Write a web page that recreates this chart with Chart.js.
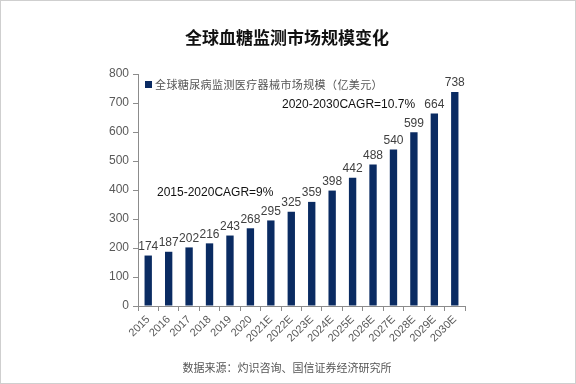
<!DOCTYPE html>
<html>
<head>
<meta charset="utf-8">
<script src="https://cdn.jsdelivr.net/npm/chart.js@4"></script>
<style>
	html, body { margin: 0; padding: 0; background: #fff; }
	#wrap { width: 576px; height: 384px; }
</style>
</head>
<body>
<div id="wrap"><canvas id="marketChart" width="576" height="384"></canvas></div>
<script>
// Chart data
const years = ['2015', '2016', '2017', '2018', '2019', '2020', '2021E', '2022E', '2023E',
	'2024E', '2025E', '2026E', '2027E', '2028E', '2029E', '2030E'];
const marketSize = [174, 187, 202, 216, 243, 268, 295, 325, 359, 398, 442, 488, 540, 599, 664, 738];
const yTicks = [0, 100, 200, 300, 400, 500, 600, 700, 800];

const seriesName = '全球糖尿病监测医疗器械市场规模（亿美元）';
const chartTitle = '全球血糖监测市场规模变化';
const sourceNote = '数据来源：灼识咨询、国信证券经济研究所';
const navy = '#0a2b62';
const axisGray = '#8c8c8c';
const textGray = '#404040';
const cjkFont = '"Noto Sans CJK SC", "Noto Sans", sans-serif';
const latinFont = '"Liberation Sans", Arial, sans-serif';

// Title, legend, CAGR notes, labels, frame
const decorations = {
	id: 'decorations',
	afterDatasetsDraw(chart) {
		const ctx = chart.ctx;
		const meta = chart.getDatasetMeta(0);
		ctx.save();
		ctx.fillStyle = textGray;
		ctx.font = '12px ' + latinFont;
		ctx.textAlign = 'center';
		ctx.textBaseline = 'bottom';
		meta.data.forEach((bar, i) => {
			ctx.fillText(String(marketSize[i]), bar.x, bar.y - 3);
		});
		ctx.restore();
	},
	afterDraw(chart) {
		const ctx = chart.ctx;
		ctx.save();
		// frame
		ctx.strokeStyle = '#cfcfcf';
		ctx.lineWidth = 1;
		ctx.strokeRect(0.5, 0.5, 575, 383);

		// title
		ctx.fillStyle = '#111';
		ctx.font = 'bold 17px ' + cjkFont;
		ctx.textAlign = 'center';
		ctx.textBaseline = 'middle';
		ctx.fillText(chartTitle, 287, 38);

		// legend
		ctx.fillStyle = navy;
		ctx.fillRect(145, 81, 7, 7);
		ctx.fillStyle = '#555';
		ctx.font = '11px ' + cjkFont;
		ctx.textAlign = 'left';
		ctx.letterSpacing = '0.4px';
		ctx.fillText(seriesName, 155, 85);
		ctx.letterSpacing = '0px';

		// CAGR notes
		ctx.fillStyle = '#111';
		ctx.font = '12px ' + latinFont;
		ctx.fillText('2020-2030CAGR=10.7%', 282, 105);
		ctx.fillText('2015-2020CAGR=9%', 157, 193);

		// source
		ctx.fillStyle = '#555';
		ctx.font = '11px ' + cjkFont;
		ctx.textAlign = 'center';
		ctx.fillText(sourceNote, 287, 368);
		ctx.restore();
	}
};

document.addEventListener('DOMContentLoaded', function () {
	const ctx = document.getElementById('marketChart').getContext('2d');
	new Chart(ctx, {
		type: 'bar',
		data: {
			labels: years,
			datasets: [
				{
					label: seriesName,
					data: marketSize,
					backgroundColor: navy,
					barPercentage: 0.36,
					categoryPercentage: 1,
				},
			],
		},
		options: {
			responsive: false,
			animation: false,
			layout: {
				padding: { left: 100, right: 111, top: 74, bottom: 0 },
			},
			plugins: {
				legend: { display: false },
				tooltip: { enabled: false },
			},
			scales: {
				y: {
					min: 0,
					max: 800,
					afterBuildTicks(scale) {
						scale.ticks = yTicks.map((v) => ({ value: v }));
					},
					afterFit(scale) {
						scale.width = 38;
					},
					grid: {
						drawOnChartArea: false,
						drawTicks: true,
						tickLength: 5,
						color: axisGray,
					},
					border: { color: axisGray },
					ticks: {
						color: '#595959',
						font: { size: 12, family: latinFont },
						padding: 4,
					},
				},
				x: {
					afterFit(scale) {
						scale.height = 78;
					},
					grid: {
						offset: true,
						drawOnChartArea: false,
						drawTicks: true,
						tickLength: 5,
						color: axisGray,
					},
					border: { color: axisGray },
					ticks: {
						color: '#595959',
						font: { size: 11, family: latinFont },
						minRotation: 45,
						maxRotation: 45,
						autoSkip: false,
						padding: 2,
					},
				},
			},
		},
		plugins: [decorations],
	});
});
</script>
</body>
</html>
